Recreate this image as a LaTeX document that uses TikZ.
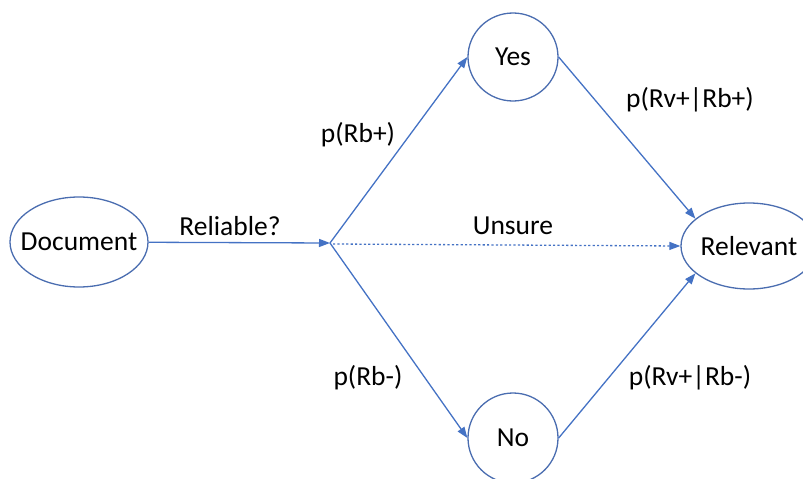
\documentclass[tikz,border=0pt]{standalone}
\usepackage{fontspec}
\setmainfont{Carlito}
\usetikzlibrary{arrows.meta,shapes.geometric}
\definecolor{edge}{HTML}{4472C4}
\definecolor{rim}{HTML}{4A6DB0}
\newcommand{\fixw}[1]{\makebox[0pt]{#1}}
\begin{document}
\begin{tikzpicture}[x=1pt,y=-1pt,
  font=\fontsize{27.5}{33}\selectfont,
  state/.style={ellipse, draw=rim, line width=1.3pt, inner sep=0pt, fill=white},
  conn/.style={draw=edge, line width=1.3pt, -{Triangle[length=11pt,width=8pt]}},
  maybe/.style={conn, dash pattern=on 2.2pt off 2.2pt},
  lbl/.style={inner sep=0pt}]
\useasboundingbox (0,0) rectangle (803,479);

% states (text boxed at zero width so the outline keeps its set size)
\node[state, minimum width=138, minimum height=90] (doc) at (79,242) {\fixw{Document}};
\node[state, minimum width=90, minimum height=88] (yes) at (513,57) {\fixw{Yes}};
\node[state, minimum width=90, minimum height=90] (no) at (513,438) {\fixw{No}};
\node[state, minimum width=136, minimum height=86] (rel) at (749,246) {\fixw{Relevant}};

% branching point
\coordinate (j) at (330,243);
\coordinate (js) at (333,244);

% connectors
\draw[conn] (doc) -- (j);
\draw[conn] (j) -- (yes.west);
\draw[conn] (j) -- (no.west);
\draw[maybe] (js) -- (rel.west);
\draw[conn] (yes.east) -- (rel.153);
\draw[conn] (no.east) -- (rel.207);

% labels
\node[lbl] (lrel) at (230,226) {Reliable?};
\node[lbl] (lyes) at (358,135) {p(Rb+)};
\node[lbl] (lno) at (368,378) {p(Rb-)};
\node[lbl] (lunsure) at (513,226) {Unsure};
\node[lbl] (lpy) at (690,100) {p(Rv+|Rb+)};
\node[lbl] (lpn) at (690,378) {p(Rv+|Rb-)};
\end{tikzpicture}
\end{document}
